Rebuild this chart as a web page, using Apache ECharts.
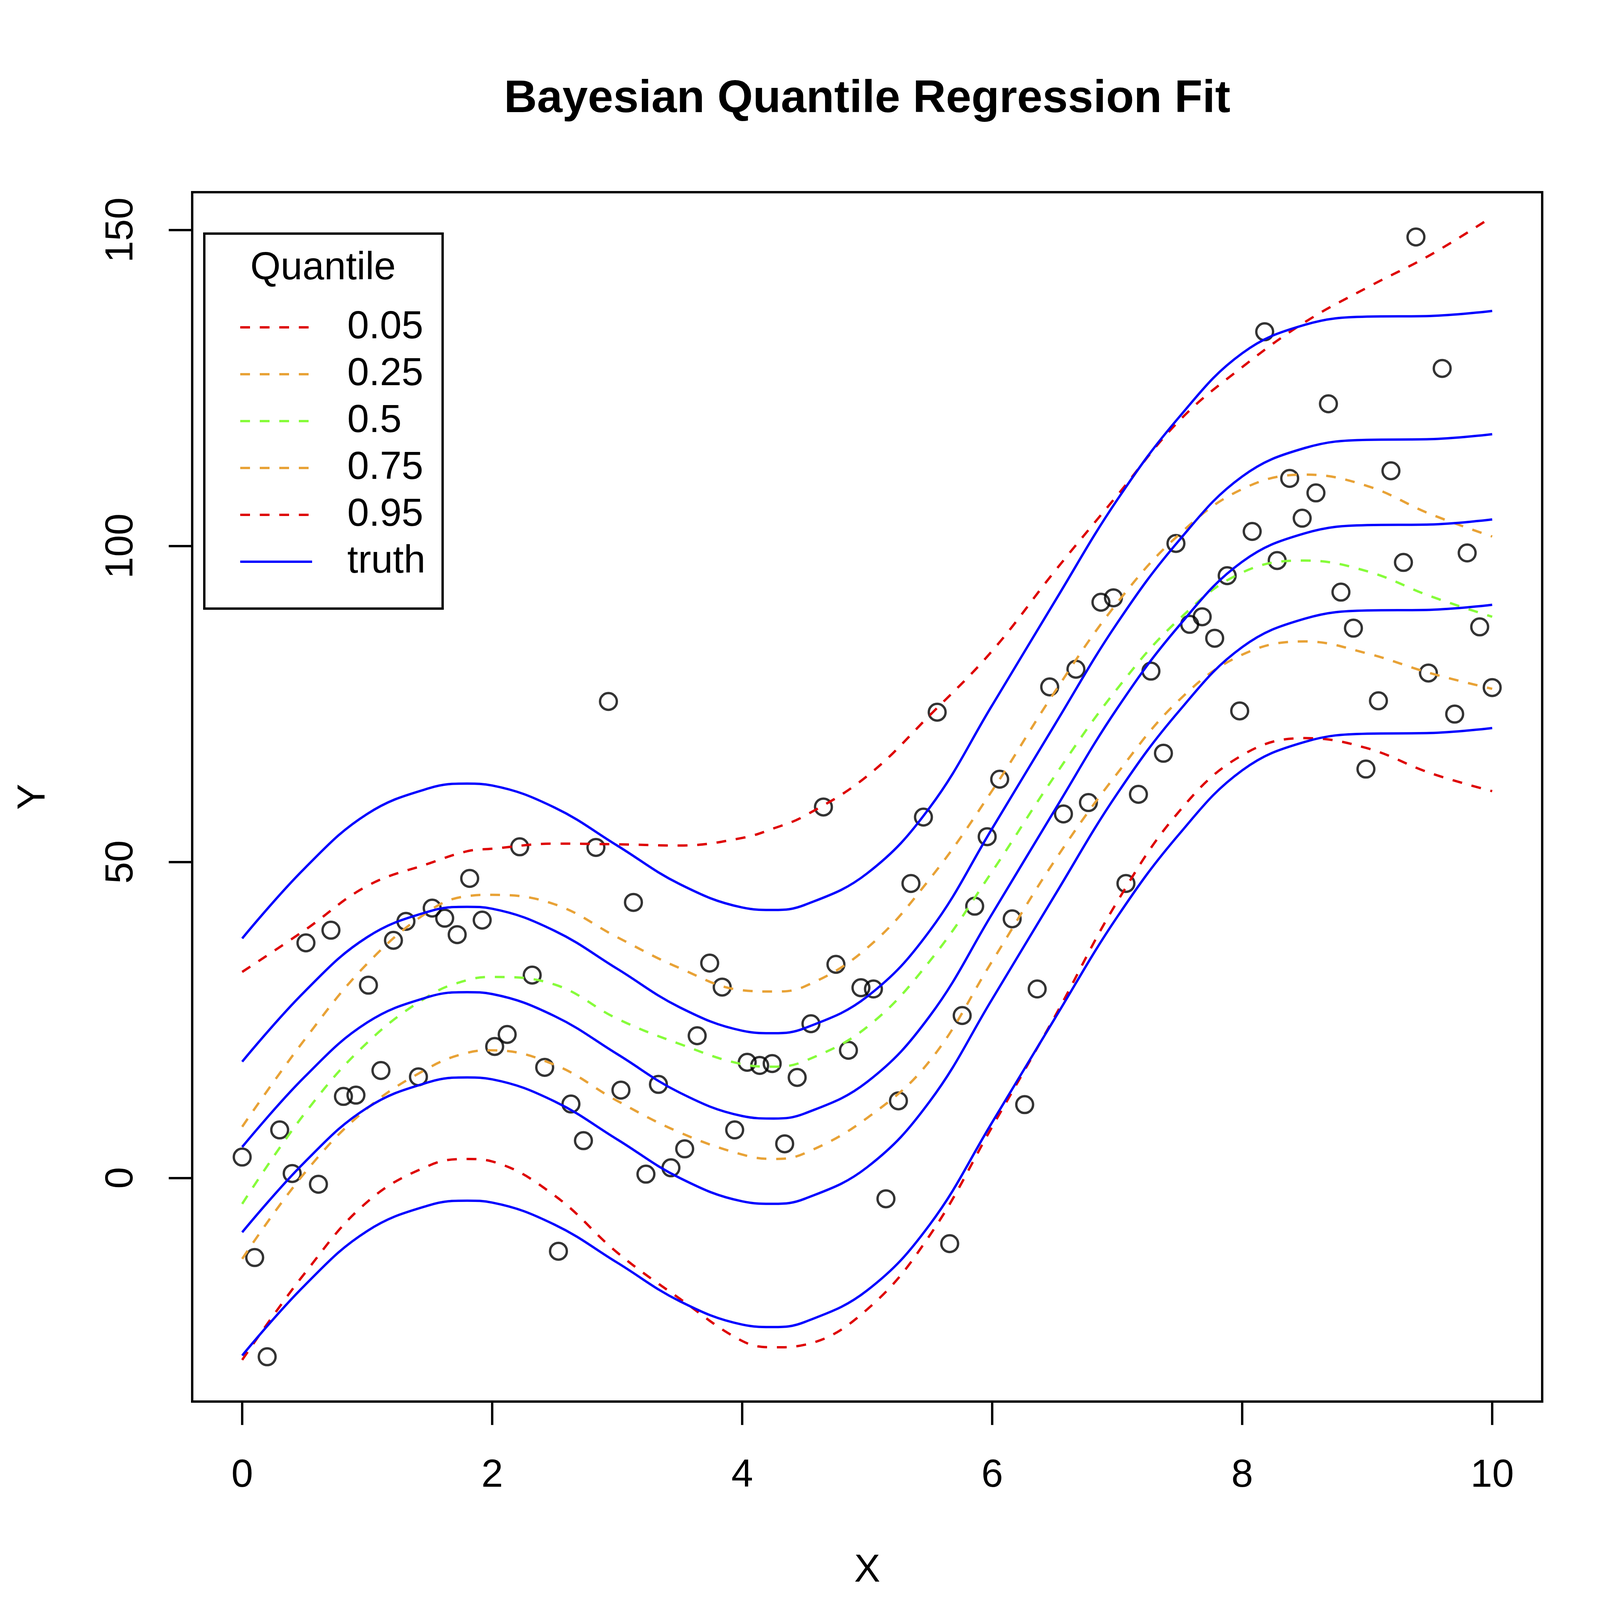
<!DOCTYPE html>
<html>
<head>
<meta charset="utf-8">
<title>Bayesian Quantile Regression Fit</title>
<script src="https://cdn.jsdelivr.net/npm/echarts@6.0.0/dist/echarts.min.js"></script>
<style>
  html, body { margin: 0; padding: 0; background: #fff; }
  #chart { width: 4200px; height: 4200px; }
</style>
</head>
<body>
<div id="chart"></div>
<script>
// observed points (x = 100 evenly spaced values on [0, 10])
var xPoints = [
  0.00, 0.10, 0.20, 0.30, 0.40, 0.51, 0.61, 0.71, 0.81, 0.91,
  1.01, 1.11, 1.21, 1.31, 1.41, 1.52, 1.62, 1.72, 1.82, 1.92,
  2.02, 2.12, 2.22, 2.32, 2.42, 2.53, 2.63, 2.73, 2.83, 2.93,
  3.03, 3.13, 3.23, 3.33, 3.43, 3.54, 3.64, 3.74, 3.84, 3.94,
  4.04, 4.14, 4.24, 4.34, 4.44, 4.55, 4.65, 4.75, 4.85, 4.95,
  5.05, 5.15, 5.25, 5.35, 5.45, 5.56, 5.66, 5.76, 5.86, 5.96,
  6.06, 6.16, 6.26, 6.36, 6.46, 6.57, 6.67, 6.77, 6.87, 6.97,
  7.07, 7.17, 7.27, 7.37, 7.47, 7.58, 7.68, 7.78, 7.88, 7.98,
  8.08, 8.18, 8.28, 8.38, 8.48, 8.59, 8.69, 8.79, 8.89, 8.99,
  9.09, 9.19, 9.29, 9.39, 9.49, 9.60, 9.70, 9.80, 9.90, 10.00
];
var yPoints = [
  3.3, -12.6, -28.3, 7.6, 0.7, 37.2, -1.0, 39.2, 12.9, 13.1,
  30.5, 17.0, 37.6, 40.6, 16.0, 42.7, 41.1, 38.5, 47.4, 40.8,
  20.8, 22.7, 52.4, 32.1, 17.5, -11.6, 11.7, 5.9, 52.3, 75.4,
  13.9, 43.6, 0.6, 14.8, 1.6, 4.6, 22.5, 34.0, 30.2, 7.6,
  18.3, 17.8, 18.1, 5.4, 15.9, 24.4, 58.7, 33.8, 20.2, 30.1,
  29.9, -3.3, 12.2, 46.6, 57.1, 73.7, -10.4, 25.7, 43.0, 54.0,
  63.1, 41.0, 11.6, 29.9, 77.7, 57.6, 80.5, 59.4, 91.1, 91.8,
  46.6, 60.7, 80.2, 67.2, 100.4, 87.6, 88.8, 85.4, 95.3, 73.9,
  102.3, 133.9, 97.7, 110.7, 104.4, 108.4, 122.5, 92.7, 87.0, 64.7,
  75.5, 111.9, 97.4, 148.9, 79.9, 128.1, 73.4, 98.9, 87.2, 77.6
];

var curveX = [0, 0.5, 1, 1.5, 1.8, 2, 2.5, 3, 3.5, 4, 4.25, 4.5, 5, 5.5, 6, 6.5, 7, 7.5, 8, 8.5, 9, 9.5, 10];

// fitted quantiles (dashed)
var fit05 = [-28.8, -15.1, -3.8, 2.0, 3.0, 2.6, -2.8, -11.8, -19.1, -25.8, -26.8, -26.4, -20.8, -9.1, 8.1, 25.5, 43.7, 58.1, 66.9, 69.6, 68.0, 64.1, 61.2];
var fit25 = [-12.8, 0.8, 11.0, 17.5, 19.8, 20.2, 17.9, 12.2, 7.2, 3.7, 3.0, 3.9, 9.5, 18.5, 34.3, 50.2, 64.0, 75.7, 82.8, 84.9, 83.0, 79.9, 77.4];
var fit50 = [-4.1, 10.2, 21.4, 28.9, 31.3, 31.8, 30.6, 25.2, 21.2, 18.0, 17.6, 18.5, 23.9, 34.3, 48.5, 63.6, 77.4, 88.5, 95.8, 97.7, 96.0, 92.1, 88.8];
var fit75 = [8.1, 21.9, 33.9, 42.3, 44.6, 44.8, 43.3, 38.1, 33.2, 29.7, 29.5, 30.3, 36.4, 47.3, 61.3, 76.9, 91.0, 101.9, 109.0, 111.3, 109.5, 105.1, 101.5];
var fit95 = [32.6, 39.2, 46.2, 49.8, 51.7, 52.1, 52.9, 52.8, 52.6, 53.8, 55.3, 57.3, 63.6, 73.2, 83.4, 96.0, 108.0, 119.9, 128.3, 135.4, 140.9, 146.0, 152.1];

// true quantile curves (solid blue)
var true05 = [-28.1, -17.0, -8.4, -4.3, -3.6, -3.9, -7.4, -13.4, -19.5, -23.2, -23.6, -22.8, -17.8, -7.4, 8.8, 25.2, 41.3, 54.5, 64.5, 69.0, 70.3, 70.4, 71.2];
var true25 = [-8.6, 2.5, 11.1, 15.2, 15.9, 15.6, 12.1, 6.1, 0.0, -3.7, -4.1, -3.3, 1.7, 12.1, 28.3, 44.7, 60.8, 74.0, 84.0, 88.5, 89.8, 89.9, 90.7];
var true50 = [4.9, 16.0, 24.6, 28.7, 29.4, 29.1, 25.6, 19.6, 13.5, 9.8, 9.4, 10.2, 15.2, 25.6, 41.8, 58.2, 74.3, 87.5, 97.5, 102.0, 103.3, 103.4, 104.2];
var true75 = [18.4, 29.5, 38.1, 42.2, 42.9, 42.6, 39.1, 33.1, 27.0, 23.3, 22.9, 23.7, 28.7, 39.1, 55.3, 71.7, 87.8, 101.0, 111.0, 115.5, 116.8, 116.9, 117.7];
var true95 = [37.9, 49.0, 57.6, 61.7, 62.4, 62.1, 58.6, 52.6, 46.5, 42.8, 42.4, 43.2, 48.2, 58.6, 74.8, 91.2, 107.3, 120.5, 130.5, 135.0, 136.3, 136.4, 137.2];

var quantileNames = ['0.05', '0.25', '0.5', '0.75', '0.95'];
var xTicks = [0, 2, 4, 6, 8, 10];
var yTicks = [0, 50, 100, 150];

var FONT = '"Liberation Sans", Arial, Helvetica, sans-serif';
var RED = '#DE0000';
var ORANGE = '#E8A236';
var GREEN = '#86FC3A';
var BLUE = '#0000FF';
var LW = 6;
var SMOOTH = 0.4;

function pairs(xs, ys) {
  var out = [];
  for (var i = 0; i < xs.length; i++) {
    out.push([xs[i], ys[i]]);
  }
  return out;
}

// R style axis range: data range padded by 4% on each side
function paddedRange(values) {
  var lo = Math.min.apply(null, values);
  var hi = Math.max.apply(null, values);
  var pad = (hi - lo) * 0.04;
  return [lo - pad, hi + pad];
}

var xRange = paddedRange(xPoints);
var yRange = paddedRange(yPoints);

function quantileLine(name, values, color) {
  return {
    type: 'line',
    name: name,
    data: pairs(curveX, values),
    smooth: SMOOTH,
    symbol: 'none',
    silent: true,
    z: 3,
    lineStyle: { color: color, width: LW, type: [25, 25] }
  };
}

function truthLine(values) {
  return {
    type: 'line',
    name: 'truth',
    data: pairs(curveX, values),
    smooth: SMOOTH,
    symbol: 'none',
    silent: true,
    z: 4,
    lineStyle: { color: BLUE, width: LW, type: 'solid' }
  };
}

var myChart = echarts.init(document.getElementById('chart'), null, { renderer: 'canvas', width: 4200, height: 4200 });

var option = {
  animation: false,
  backgroundColor: '#fff',
  grid: {
    left: 492,
    top: 492,
    right: 252,
    bottom: 612,
    show: true,
    borderColor: '#000',
    borderWidth: LW,
    backgroundColor: 'transparent',
    containLabel: false,
    outerBoundsMode: 'none'
  },
  xAxis: {
    type: 'value',
    min: xRange[0],
    max: xRange[1],
    name: 'X',
    nameLocation: 'middle',
    nameGap: 383,
    nameTextStyle: { fontFamily: FONT, fontSize: 100, color: '#000' },
    axisLine: { show: false, onZero: false },
    splitLine: { show: false },
    axisTick: {
      show: true,
      length: 60,
      customValues: xTicks,
      lineStyle: { color: '#000', width: LW }
    },
    axisLabel: {
      customValues: xTicks,
      margin: 140,
      fontFamily: FONT,
      fontSize: 100,
      color: '#000'
    }
  },
  yAxis: {
    type: 'value',
    min: yRange[0],
    max: yRange[1],
    name: 'Y',
    nameLocation: 'middle',
    nameGap: 356,
    nameTextStyle: { fontFamily: FONT, fontSize: 100, color: '#000' },
    axisLine: { show: false, onZero: false },
    splitLine: { show: false },
    axisTick: {
      show: true,
      length: 60,
      customValues: yTicks,
      lineStyle: { color: '#000', width: LW }
    },
    axisLabel: {
      customValues: yTicks,
      rotate: 90,
      margin: 131,
      fontFamily: FONT,
      fontSize: 100,
      color: '#000'
    }
  },
  legend: {
    orient: 'vertical',
    left: 523,
    top: 598,
    padding: [190, 44, 70, 89],
    itemWidth: 184,
    itemHeight: 14,
    itemGap: 20,
    borderColor: '#000',
    borderWidth: LW,
    borderRadius: 0,
    backgroundColor: '#fff',
    selectedMode: false,
    itemStyle: { opacity: 0 },
    lineStyle: { width: LW },
    textStyle: {
      fontFamily: FONT,
      fontSize: 100,
      lineHeight: 100,
      color: '#000',
      padding: [0, 0, 0, 85]
    },
    data: quantileNames.concat(['truth'])
  },
  graphic: [
    {
      type: 'text',
      x: 2220,
      y: 255,
      style: {
        text: 'Bayesian Quantile Regression Fit',
        font: 'bold 117px ' + FONT,
        fill: '#000',
        align: 'center',
        verticalAlign: 'middle'
      }
    },
    {
      type: 'text',
      x: 827,
      y: 687,
      z: 100,
      style: {
        text: 'Quantile',
        font: '100px ' + FONT,
        fill: '#000',
        align: 'center',
        verticalAlign: 'middle'
      }
    }
  ],
  series: [
    {
      type: 'scatter',
      name: 'observed',
      data: pairs(xPoints, yPoints),
      symbol: 'circle',
      symbolSize: 43,
      silent: true,
      z: 2,
      itemStyle: { color: 'rgba(0,0,0,0)', borderColor: '#000', borderWidth: LW }
    },
    quantileLine(quantileNames[0], fit05, RED),
    quantileLine(quantileNames[1], fit25, ORANGE),
    quantileLine(quantileNames[2], fit50, GREEN),
    quantileLine(quantileNames[3], fit75, ORANGE),
    quantileLine(quantileNames[4], fit95, RED),
    truthLine(true05),
    truthLine(true25),
    truthLine(true50),
    truthLine(true75),
    truthLine(true95)
  ]
};

myChart.setOption(option);
</script>
</body>
</html>
